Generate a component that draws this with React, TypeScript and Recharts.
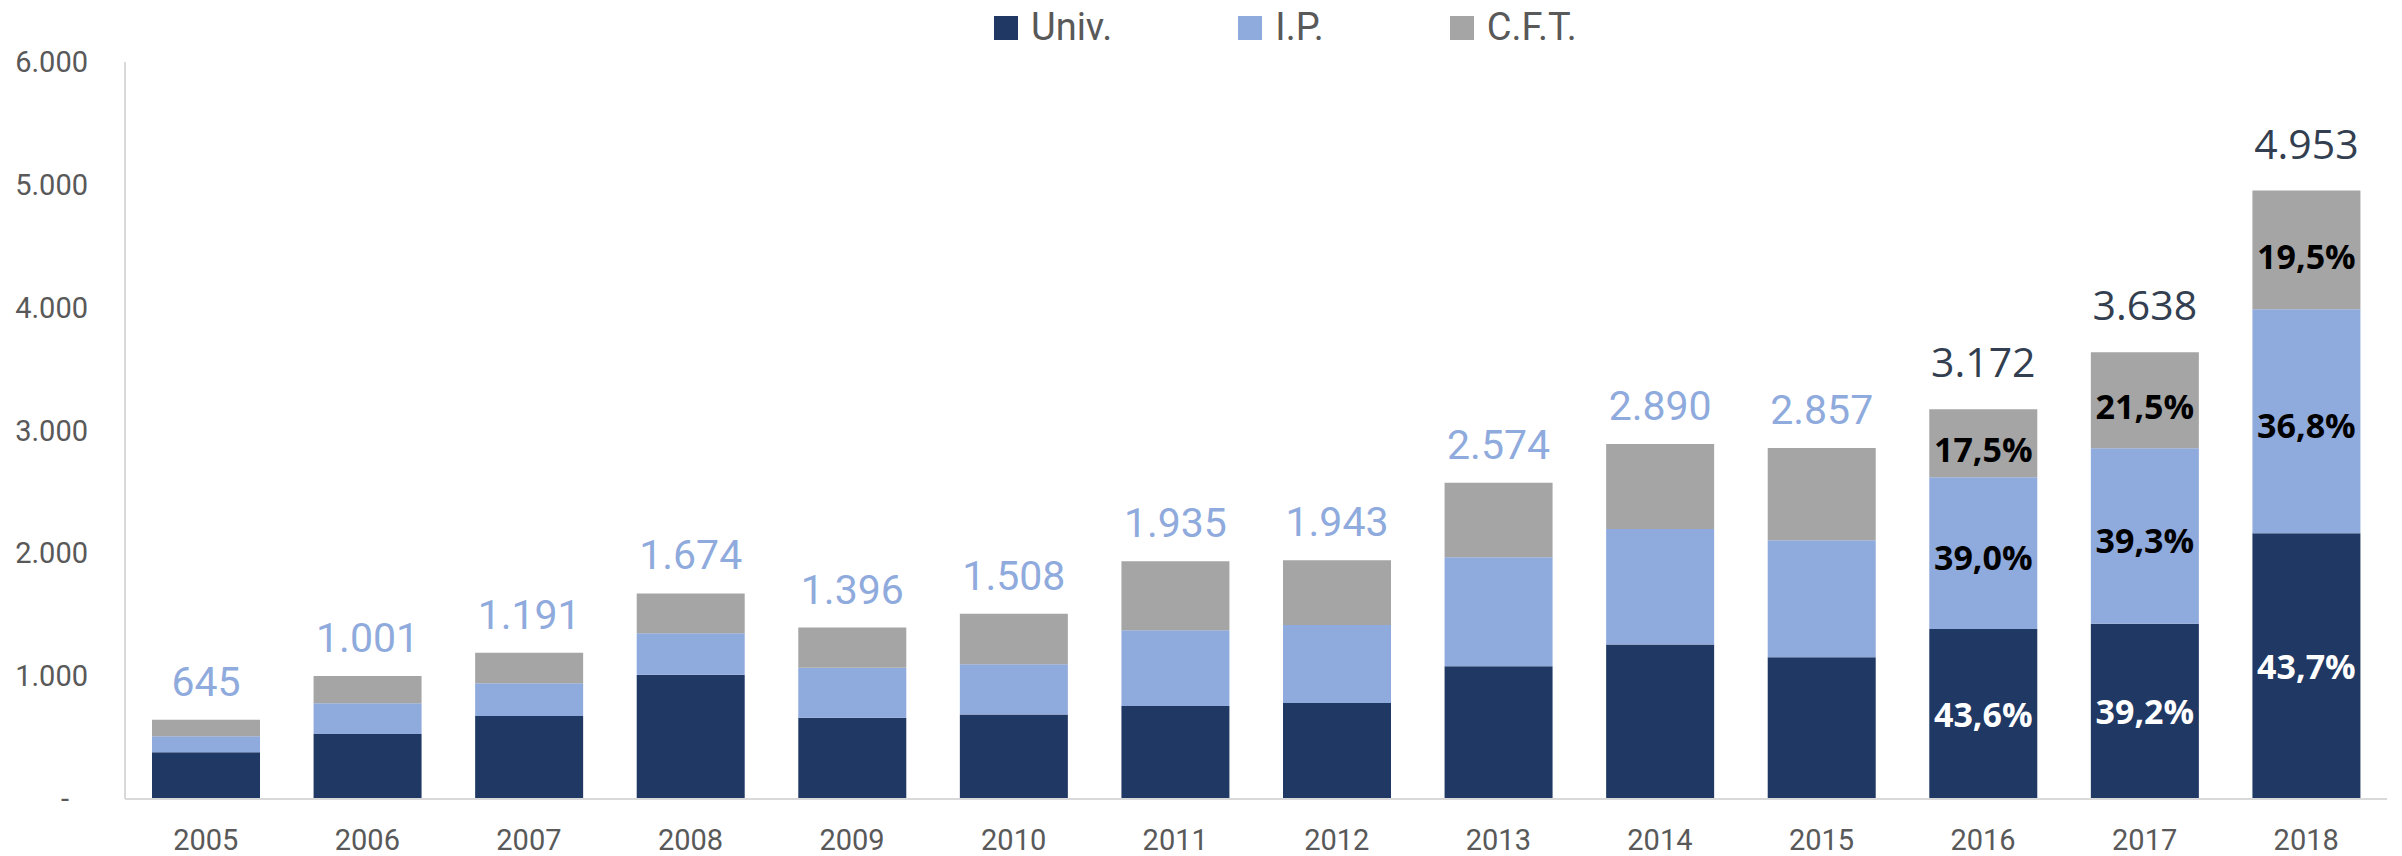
import React from 'react';
import { BarChart, Bar, XAxis, YAxis, Legend, LabelList } from 'recharts';

const years = ['2005', '2006', '2007', '2008', '2009', '2010', '2011', '2012', '2013', '2014', '2015', '2016', '2017', '2018'];
const univ = [380, 530, 675, 1012, 662, 687, 757, 782, 1080, 1258, 1155, 1383, 1426, 2164];
const ip = [130, 250, 268, 337, 407, 410, 617, 635, 888, 940, 951, 1237, 1430, 1823];
const cft = [135, 221, 248, 325, 327, 411, 561, 526, 606, 692, 751, 552, 782, 966];
const totalLabels = ['645', '1.001', '1.191', '1.674', '1.396', '1.508', '1.935', '1.943', '2.574', '2.890', '2.857', '3.172', '3.638', '4.953'];
const univPct = ['', '', '', '', '', '', '', '', '', '', '', '43,6%', '39,2%', '43,7%'];
const ipPct = ['', '', '', '', '', '', '', '', '', '', '', '39,0%', '39,3%', '36,8%'];
const cftPct = ['', '', '', '', '', '', '', '', '', '', '', '17,5%', '21,5%', '19,5%'];
const darkTotalYears = ['2016', '2017', '2018'];
const yTicks = [0, 1000, 2000, 3000, 4000, 5000, 6000];
const seriesNames = ['Univ.', 'I.P.', 'C.F.T.'];

const COLORS = { univ: '#203864', ip: '#8FAADC', cft: '#A5A5A5' };
const AXIS_TEXT = '#595959';

const data = years.map((year, i) => ({
  year,
  univ: univ[i],
  ip: ip[i],
  cft: cft[i],
  total: totalLabels[i],
  univPct: univPct[i],
  ipPct: ipPct[i],
  cftPct: cftPct[i],
}));

const fmt = (n: number) => String(n).replace(/\B(?=(\d{3})+(?!\d))/g, '.');

const TotalLabel = (props: any) => {
  const { x, y, width, index, value } = props;
  const i = typeof index === 'number' ? index : totalLabels.indexOf(String(value));
  const dark = darkTotalYears.includes(years[i]);
  return (
    <text
      x={Number(x) + Number(width) / 2}
      y={Number(y) - (dark ? 32 : 24)}
      textAnchor="middle"
      fill={dark ? '#333F50' : '#8FAADC'}
      fontSize={dark ? 41 : 41}
      fontFamily={dark ? '"Open Sans", sans-serif' : 'Roboto, sans-serif'}
    >
      {totalLabels[i]}
    </text>
  );
};

const makePctLabel = (color: string, dyExtra: number) => (props: any) => {
  const { x, y, width, height, value } = props;
  if (!value) return null;
  return (
    <text
      x={Number(x) + Number(width) / 2}
      y={Number(y) + Number(height) / 2 + dyExtra}
      textAnchor="middle"
      dominantBaseline="central"
      fill={color}
      fontSize={34}
      fontWeight="bold"
      fontFamily='"Open Sans", sans-serif'
    >
      {value}
    </text>
  );
};

const YTick = (props: any) => {
  const { x, y, payload } = props;
  const v = payload.value;
  return (
    <text
      x={v === 0 ? x - 19 : x}
      y={y}
      textAnchor="end"
      dominantBaseline="central"
      fill={AXIS_TEXT}
      fontSize={29}
      fontFamily="Roboto, sans-serif"
    >
      {v === 0 ? '-' : fmt(v)}
    </text>
  );
};

const legendColors = [COLORS.univ, COLORS.ip, COLORS.cft];

const renderLegend = () => (
  <div
    style={{
      height: 55,
      display: 'flex',
      alignItems: 'center',
      paddingLeft: 994,
      gap: 126,
      boxSizing: 'border-box',
    }}
  >
    {seriesNames.map((name, i) => (
      <div key={name} style={{ display: 'flex', alignItems: 'center' }}>
        <div style={{ width: 24, height: 24, background: legendColors[i], marginRight: 13 }} />
        <span style={{ fontFamily: 'Roboto, sans-serif', fontSize: 38, color: AXIS_TEXT, lineHeight: '55px' }}>{name}</span>
      </div>
    ))}
  </div>
);

export default function App() {
  return (
    <div style={{ position: 'absolute', left: 0, top: 0, background: '#fff' }}>
      <BarChart
        width={2402}
        height={856}
        data={data}
        margin={{ top: 7, right: 15, bottom: 0, left: 0 }}
        barSize={108}
      >
        <Legend
          verticalAlign="top"
          align="left"
          content={renderLegend}
          wrapperStyle={{ top: 0, left: 0, width: 2402, height: 55 }}
        />
        <XAxis
          dataKey="year"
          height={57}
          tickLine={false}
          axisLine={{ stroke: '#D9D9D9', strokeWidth: 2 }}
          tick={{ fill: AXIS_TEXT, fontSize: 29, fontFamily: 'Roboto, sans-serif' }}
          tickMargin={24}
          interval={0}
        />
        <YAxis
          width={125}
          domain={[0, 6000]}
          ticks={yTicks}
          tickLine={false}
          axisLine={{ stroke: '#D9D9D9', strokeWidth: 2 }}
          tickMargin={31}
          tick={<YTick />}
        />
        <Bar dataKey="univ" name={seriesNames[0]} stackId="a" fill={COLORS.univ} isAnimationActive={false}>
          <LabelList dataKey="univPct" content={makePctLabel('#FFFFFF', 0)} />
        </Bar>
        <Bar dataKey="ip" name={seriesNames[1]} stackId="a" fill={COLORS.ip} isAnimationActive={false}>
          <LabelList dataKey="ipPct" content={makePctLabel('#000000', 4)} />
        </Bar>
        <Bar dataKey="cft" name={seriesNames[2]} stackId="a" fill={COLORS.cft} isAnimationActive={false}>
          <LabelList dataKey="cftPct" content={makePctLabel('#000000', 6)} />
          <LabelList dataKey="total" content={<TotalLabel />} />
        </Bar>
      </BarChart>
    </div>
  );
}
